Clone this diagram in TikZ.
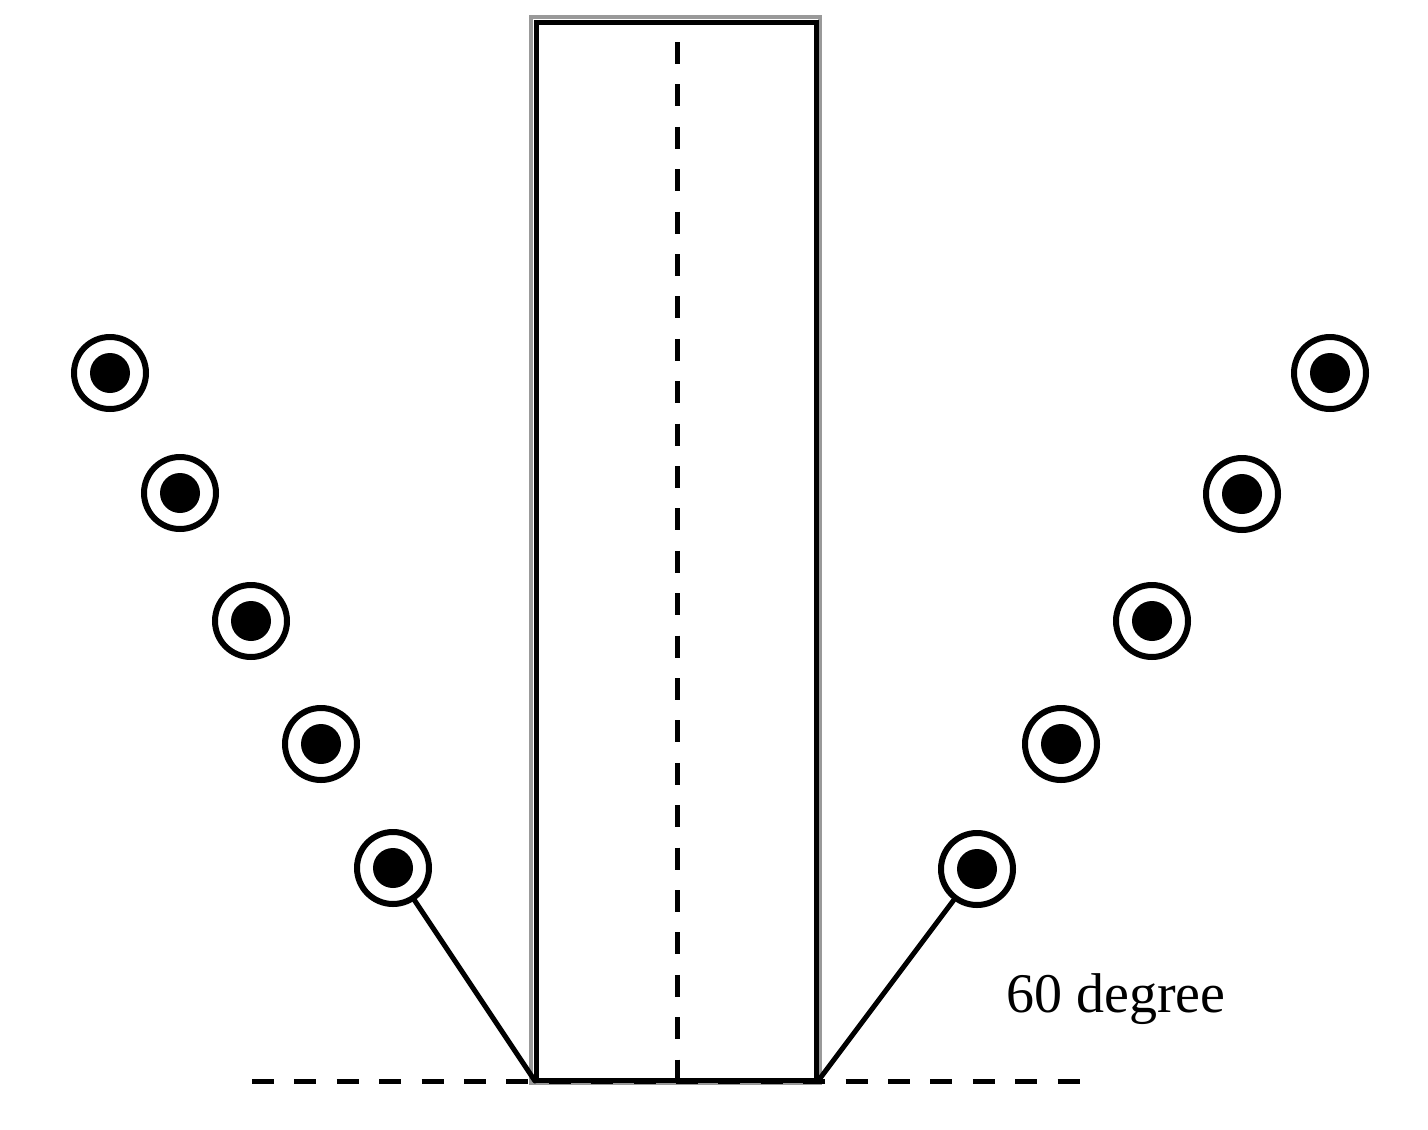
\documentclass[tikz,border=0pt]{standalone}
\usepackage{fontspec}
\setmainfont{Liberation Serif}
\begin{document}
\begin{tikzpicture}[x=1pt,y=-1pt,
  ring/.style={circle,draw=black,line width=6pt,minimum size=72pt,inner sep=0pt},
  dashln/.style={line width=5pt,dash pattern=on 22pt off 20.4pt},
  solidln/.style={line width=5pt,line cap=round}]
\useasboundingbox (0,0) rectangle (1428,1130);
% rectangle
\draw[gray!80,line width=4pt] (531,17) rectangle (820,1083);
\draw[black,line width=5pt] (536,22) rectangle (816,1080);
\coordinate (BL) at (535,1081);
\coordinate (BR) at (818,1081);
\coordinate (VT) at (677,42);
\coordinate (VB) at (677,1081);
\coordinate (HL) at (252,1081);
\coordinate (HR) at (1080,1081);
\draw[dashln] (VT) -- (VB);
\draw[dashln] (HL) -- (HR);
% circles
\foreach \n/\x/\y in {l1/110/373,l2/180/493,l3/251/621,l4/321/744,l5/393/868,
                      r1/1330/373,r2/1242/494,r3/1152/621,r4/1061/744,r5/977/869}{
  \node[ring] (\n) at (\x,\y) {};
  \fill (\n.center) circle (20pt);
}
\draw[solidln] (l5) -- (BL);
\draw[solidln] (r5) -- (BR);
\node[anchor=base west,inner sep=0pt,font=\fontsize{56}{60}\selectfont] (lbl) at (1006,1012) {60 degree};
\end{tikzpicture}
\end{document}
